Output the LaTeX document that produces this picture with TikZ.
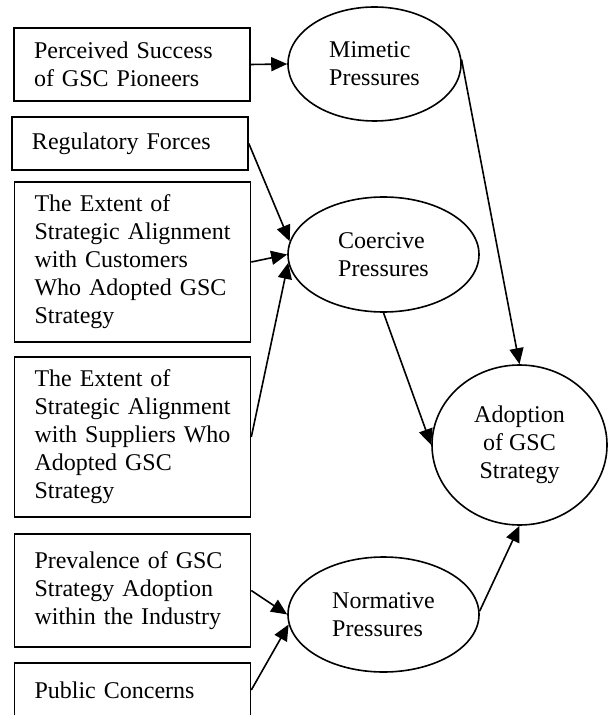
\documentclass[tikz,border=0pt]{standalone}
\usepackage{fontspec}
\setmainfont{Liberation Serif}
\usetikzlibrary{arrows.meta,shapes.geometric}

\begin{document}
\begin{tikzpicture}[x=0.5pt,y=-0.5pt,
  box/.style={draw, line width=0.8pt, rectangle, text width=98pt, inner xsep=10pt, inner ysep=0pt,
    align=left, font=\fontsize{12}{14}\selectfont},
  pres/.style={draw, line width=0.8pt, ellipse, inner sep=0pt, align=left,
    font=\fontsize{12}{14}\selectfont},
  arr/.style={-{Triangle[length=8pt,width=7pt]}, line width=0.8pt}]

\useasboundingbox (0,0) rectangle (608,715);

\node[box, minimum height=36.5pt] (pioneers) at (132,64.5) {Perceived Success\\of GSC Pioneers};
\node[box, minimum height=26.5pt] (regulatory) at (130,143.5) {Regulatory Forces};
\node[box, minimum height=80pt] (customers) at (132.5,262) {The Extent of\\Strategic Alignment\\with Customers\\Who Adopted GSC\\Strategy};
\node[box, minimum height=80pt] (suppliers) at (132.5,437) {The Extent of\\Strategic Alignment\\with Suppliers Who\\Adopted GSC\\Strategy};
\node[box, minimum height=56.5pt] (prevalence) at (132.5,590.5) {Prevalence of GSC\\Strategy Adoption\\within the Industry};
\node[box, minimum height=27pt] (public) at (132.5,690) {Public Concerns};

\node[pres, minimum width=86.5pt, minimum height=57pt] (mimetic) at (374.5,64) {Mimetic\\Pressures};
\node[pres, minimum width=95.5pt, minimum height=57.5pt] (coercive) at (383.5,254.5) {Coercive\\Pressures};
\node[pres, minimum width=95.5pt, minimum height=57.5pt] (normative) at (383.5,614.5) {Normative\\Pressures};
\node[pres, align=center, minimum width=87.5pt, minimum height=80pt] (adoption) at (519.5,445) {Adoption\\of GSC\\Strategy};

\draw[arr] (pioneers.east) -- (mimetic.west);
\draw[arr] (regulatory.east) -- (coercive.172);
\draw[arr] (customers.east) -- (coercive.west);
\draw[arr] (suppliers.east) -- (coercive.185);
\draw[arr] (prevalence.east) -- (normative.west);
\draw[arr] (public.east) -- (normative.186);

\draw[arr] (mimetic.3) -- (adoption.north);
\draw[arr] (coercive.south) -- (adoption.west);
\draw[arr] (normative.2) -- (adoption.south);

\end{tikzpicture}
\end{document}
